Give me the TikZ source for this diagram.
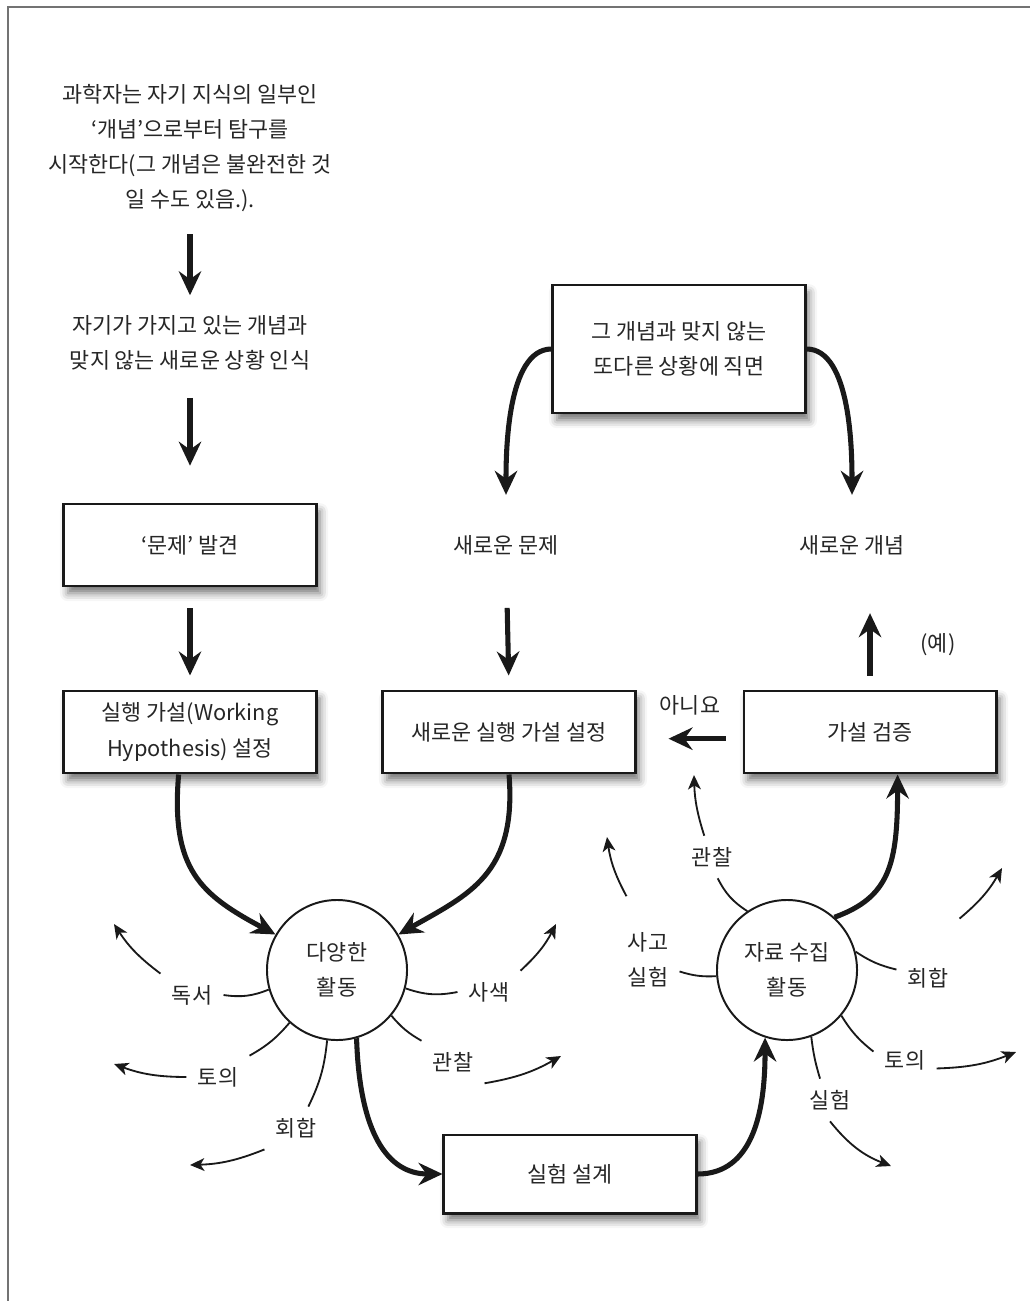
\documentclass[tikz,border=0pt]{standalone}
\usepackage{fontspec}
\setmainfont{Noto Sans CJK KR}
\usetikzlibrary{arrows.meta,shadows.blur}

\begin{document}
\begin{tikzpicture}[x=0.025cm,y=-0.025cm,
	every node/.style={font=\fontsize{15.5}{25}\selectfont,text=black!85,align=center},
	box/.style={draw=black!90,line width=2.1pt,fill=white,minimum width=6.3cm,minimum height=2.05cm,
		blur shadow={shadow xshift=0.1cm,shadow yshift=-0.18cm,shadow blur radius=0.2cm,shadow opacity=55}},
	hub/.style={circle,draw=black!90,line width=1.4pt,minimum size=3.5cm,inner sep=0pt},
	lbl/.style={inner sep=0.28cm},
	plain/.style={inner sep=0pt},
	bigarrow/.style={draw=black!90,line width=3.6pt,-{Stealth[length=0.6cm,width=0.56cm,inset=0.2cm]}},
	spoke/.style={draw=black!90,line width=1.3pt},
	smallarrow/.style={spoke,-{Stealth[length=0.36cm,width=0.32cm,inset=0.1cm]}}]

	\useasboundingbox (0,0) rectangle (1030,1301);
	\draw[black!55,line width=0.8pt] (8,1301) -- (8,7) -- (1030,7);

	% left column
	\node[plain] (intro) at (190,148) {과학자는 자기 지식의 일부인\\‘개념’으로부터 탐구를\\시작한다(그 개념은 불완전한 것\\일 수도 있음.).};
	\node[plain] (obs) at (190,343) {자기가 가지고 있는 개념과\\맞지 않는 새로운 상황 인식};
	\node[box] (prob) at (190,545) {‘문제’ 발견};
	\node[box] (hyp) at (190,732) {실행 가설(Working\\Hypothesis) 설정};

	% upper right
	\node[box,minimum height=3.2cm] (conflict) at (679,349) {그 개념과 맞지 않는\\또다른 상황에 직면};
	\node[plain] (nprob) at (506,545) {새로운 문제};
	\node[plain] (nconc) at (852,545) {새로운 개념};
	\node[box] (newhyp) at (509,732) {새로운 실행 가설 설정};
	\node[box] (verify) at (870,732) {가설 검증};
	\node (no) at (690,705) {아니요};
	\node (yes) at (938,645) {(예)};

	% bottom
	\node[hub] (act) at (337,970) {다양한\\활동};
	\node[hub] (col) at (787,970) {자료 수집\\활동};
	\node[box,minimum height=1.95cm] (design) at (570,1174) {실험 설계};

	% labels round the circles
	\node[lbl] (read) at (192,995) {독서};
	\node[lbl] (discuss1) at (218,1077) {토의};
	\node[lbl] (meet1) at (296,1128) {회합};
	\node[lbl] (ponder) at (489,992) {사색};
	\node[lbl] (observe1) at (453,1062) {관찰};
	\node[lbl] (observe2) at (712,857) {관찰};
	\node[lbl] (thought) at (648,960) {사고\\실험};
	\node[lbl] (meet2) at (928,978) {회합};
	\node[lbl] (discuss2) at (905,1060) {토의};
	\node[lbl] (experiment) at (830,1100) {실험};

	\coordinate (read-end) at (114,924);
	\coordinate (discuss1-end) at (114,1064);
	\coordinate (meet1-end) at (190,1165);
	\coordinate (ponder-end) at (556,924);
	\coordinate (observe1-end) at (561,1056);
	\coordinate (observe2-end) at (694,775);
	\coordinate (thought-end) at (607,837);
	\coordinate (meet2-end) at (1002,868);
	\coordinate (discuss2-end) at (1016,1052);
	\coordinate (experiment-end) at (891,1166);

	% main flow
	\draw[bigarrow,shorten <=0.55cm,shorten >=0.5cm] (intro.south) -- (obs.north);
	\draw[bigarrow,shorten <=0.68cm,shorten >=0.92cm] (obs.south) -- (prob.north);
	\draw[bigarrow,shorten <=0.52cm,shorten >=0.35cm] (prob.south) -- (hyp.north);
	\draw[bigarrow,shorten <=1.32cm,shorten >=0.35cm] (nprob.south) -- (newhyp.north);
	\draw[bigarrow,shorten <=0.35cm,shorten >=1.45cm] (verify.north) -- (verify.north |- nconc.south);
	\draw[bigarrow,shorten <=0.42cm,shorten >=0.8cm] (verify.183) -- (newhyp.-3);

	\draw[bigarrow,shorten >=1cm] (conflict.west) .. controls +(-45,0) and +(0,-80) .. (nprob.north);
	\draw[bigarrow,shorten >=1cm] (conflict.east) .. controls +(45,0) and +(0,-80) .. (nconc.north);

	\draw[bigarrow] (hyp.255) .. controls +(-8,95) and +(-75,-40) .. (act.150);
	\draw[bigarrow] (newhyp.south) .. controls +(8,100) and +(70,-40) .. (act.30);
	\draw[bigarrow] (act.286) .. controls +(3,95) and +(-55,0) .. (design.west);
	\draw[bigarrow] (design.east) .. controls +(55,0) and +(0,75) .. (col.252);
	\draw[bigarrow] (col.48) .. controls +(55,-20) and +(0,90) .. (verify.303);

	% spokes, left circle
	\draw[spoke] (act.196) to[bend left=15] (read.east);
	\draw[smallarrow] (read.north west) to[bend left=10] (read-end);
	\draw[spoke] (act.228) to[bend left=10] (discuss1.north east);
	\draw[smallarrow] (discuss1.west) to[bend left=10] (discuss1-end);
	\draw[spoke] (act.262) to[bend left=10] (meet1.60);
	\draw[smallarrow] (meet1.south west) to[bend left=10] (meet1-end);
	\draw[spoke] (act.345) to[bend right=15] (ponder.west);
	\draw[smallarrow] (ponder.north east) to[bend right=10] (ponder-end);
	\draw[spoke] (act.320) to[bend right=10] (observe1.north west);
	\draw[smallarrow] (observe1.south east) to[bend right=10] (observe1-end);

	% spokes, right circle
	\draw[spoke] (col.124) to[bend left=15] (observe2.285);
	\draw[smallarrow] (observe2.110) to[bend left=8] (observe2-end);
	\draw[spoke] (col.185) to[bend left=10] (thought.-20);
	\draw[smallarrow] ([shift={(10,-25)}]thought.north west) to[bend left=10] (thought-end);
	\draw[spoke] (col.15) to[bend right=10] (meet2.165);
	\draw[smallarrow] ([shift={(0,-38)}]meet2.north east) to[bend right=10] (meet2-end);
	\draw[spoke] (col.-40) to[bend right=10] (discuss2.165);
	\draw[smallarrow] (discuss2.-15) to[bend right=10] (discuss2-end);
	\draw[spoke] (col.-70) to[bend right=5] (experiment.115);
	\draw[smallarrow] (experiment.south) to[bend right=15] (experiment-end);
\end{tikzpicture}
\end{document}
